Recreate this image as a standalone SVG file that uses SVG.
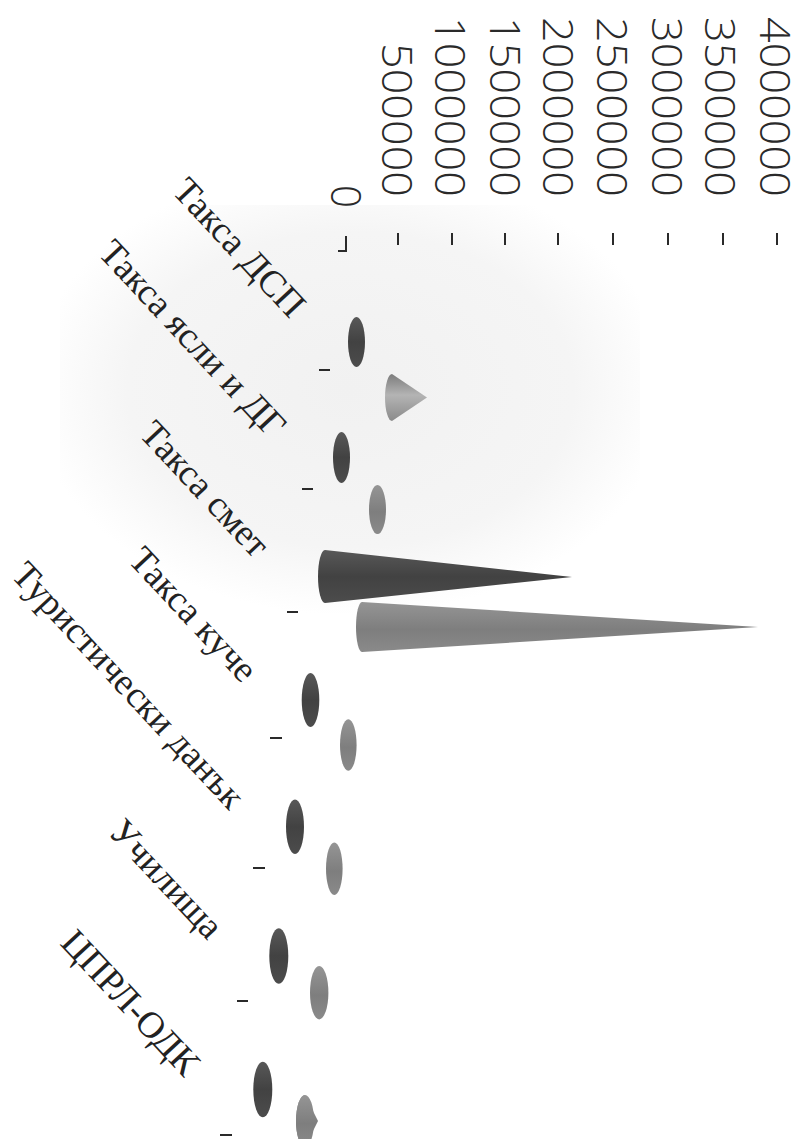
<svg xmlns="http://www.w3.org/2000/svg" width="809" height="1139" viewBox="0 0 809 1139">
  <style>
    .val { font-family: "Open Sans", "Liberation Sans", sans-serif; font-weight: 300; font-size: 42px; fill: #2a2a2a; }
    .cat { font-family: "Liberation Serif", "Times New Roman", serif; font-size: 37px; fill: #222222; }
    .tick { stroke: #2a2a2a; stroke-width: 2; fill: none; }
    .dark { fill: url(#gDark); }
    .light { fill: url(#gLight); }
  </style>
  <defs>
    <linearGradient id="gDark" x1="0" y1="0" x2="0" y2="1">
      <stop offset="0" stop-color="#585858"/>
      <stop offset="0.5" stop-color="#424242"/>
      <stop offset="1" stop-color="#4c4c4c"/>
    </linearGradient>
    <linearGradient id="gLight" x1="0" y1="0" x2="0" y2="1">
      <stop offset="0" stop-color="#959595"/>
      <stop offset="0.55" stop-color="#7e7e7e"/>
      <stop offset="1" stop-color="#8a8a8a"/>
    </linearGradient>
    <linearGradient id="gLightCone" x1="0" y1="0" x2="0" y2="1">
      <stop offset="0" stop-color="#7c7c7c"/>
      <stop offset="0.45" stop-color="#b4b4b4"/>
      <stop offset="1" stop-color="#8a8a8a"/>
    </linearGradient>
    <radialGradient id="gWall" cx="0.5" cy="0.45" r="0.55">
      <stop offset="0" stop-color="#f1f1f1"/>
      <stop offset="0.7" stop-color="#f5f5f5"/>
      <stop offset="1" stop-color="#ffffff"/>
    </radialGradient>
  </defs>
  <rect width="809" height="1139" fill="#ffffff"/>
  <rect x="60" y="205" width="580" height="410" fill="url(#gWall)"/>

  <g id="value-axis">
    <text class="val" transform="translate(760,197) rotate(90)" text-anchor="end" textLength="180" lengthAdjust="spacingAndGlyphs">4000000</text>
    <text class="val" transform="translate(705,197) rotate(90)" text-anchor="end" textLength="180" lengthAdjust="spacingAndGlyphs">3500000</text>
    <text class="val" transform="translate(652,197) rotate(90)" text-anchor="end" textLength="180" lengthAdjust="spacingAndGlyphs">3000000</text>
    <text class="val" transform="translate(597,197) rotate(90)" text-anchor="end" textLength="180" lengthAdjust="spacingAndGlyphs">2500000</text>
    <text class="val" transform="translate(543,197) rotate(90)" text-anchor="end" textLength="180" lengthAdjust="spacingAndGlyphs">2000000</text>
    <text class="val" transform="translate(490,197) rotate(90)" text-anchor="end" textLength="180" lengthAdjust="spacingAndGlyphs">1500000</text>
    <text class="val" transform="translate(435,197) rotate(90)" text-anchor="end" textLength="180" lengthAdjust="spacingAndGlyphs">1000000</text>
    <text class="val" transform="translate(382,197) rotate(90)" text-anchor="end" textLength="154" lengthAdjust="spacingAndGlyphs">500000</text>
    <text class="val" transform="translate(331,208) rotate(90)" text-anchor="end" textLength="23" lengthAdjust="spacingAndGlyphs">0</text>
  </g>

  <g id="connectors">
    <path class="tick" d="M777,233 V245 M723,233 V245 M668,233 V245 M613,233 V245 M558,233 V245 M505,233 V245 M452,233 V245 M398,233 V245"/>
    <path class="tick" d="M346,236 V251 H338"/>
    <path class="tick" d="M319,370 H330 M302,489 H313 M287,612 H298 M270,738 H282 M253,868 H265 M237,1001 H248 M220,1135 H232"/>
  </g>

  <g id="cat-dsp">
    <text class="cat" transform="translate(171,192) rotate(47)">Такса ДСП</text>
    <ellipse class="dark" cx="356.5" cy="342" rx="8.5" ry="25"/>
    <path d="M392,374 L427,397.5 L392,421 A7 23.5 0 0 1 392,374 Z" fill="url(#gLightCone)"/>
  </g>

  <g id="cat-yasli">
    <text class="cat" transform="translate(97,254) rotate(47)">Такса ясли и ДГ</text>
    <ellipse class="dark" cx="341.5" cy="457.5" rx="8.5" ry="25.5"/>
    <ellipse class="light" cx="377.5" cy="509.5" rx="8.5" ry="24.5"/>
  </g>

  <g id="cat-smet">
    <text class="cat" transform="translate(138,435) rotate(47)">Такса смет</text>
    <path class="dark" d="M325,550 L572,577 L325,603 A7 26.5 0 0 1 325,550 Z"/>
    <path class="light" d="M362,602 L758,627 L362,652 A6 25 0 0 1 362,602 Z"/>
  </g>

  <g id="cat-kuche">
    <text class="cat" transform="translate(127,561) rotate(47)">Такса куче</text>
    <ellipse class="dark" cx="310.5" cy="700" rx="8.8" ry="27"/>
    <ellipse class="light" cx="348.3" cy="745" rx="8.3" ry="25.7"/>
  </g>

  <g id="cat-turist">
    <text class="cat" transform="translate(10,576) rotate(47)">Туристически данък</text>
    <ellipse class="dark" cx="295" cy="826.7" rx="9" ry="27.3"/>
    <ellipse class="light" cx="334.3" cy="868.7" rx="8.3" ry="26.3"/>
  </g>

  <g id="cat-uchilishta">
    <text class="cat" transform="translate(107,833) rotate(47)">Училища</text>
    <ellipse class="dark" cx="278.8" cy="956" rx="9.5" ry="27.8"/>
    <ellipse class="light" cx="319.2" cy="992.7" rx="9.2" ry="26.7"/>
  </g>

  <g id="cat-cprl">
    <text class="cat" transform="translate(59,944) rotate(47)">ЦПРЛ-ОДК</text>
    <ellipse class="dark" cx="262.8" cy="1089.5" rx="9.5" ry="27.8"/>
    <path class="light" d="M305,1095 L318,1121 L305,1147 A9 26 0 0 1 305,1095 Z"/>
    <ellipse class="light" cx="305" cy="1121" rx="9" ry="26"/>
  </g>
</svg>
